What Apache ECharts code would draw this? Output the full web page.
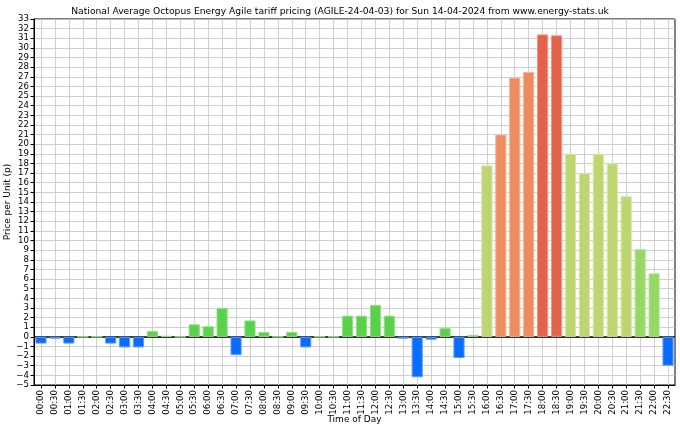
<!DOCTYPE html>
<html><head><meta charset="utf-8">
<script src="https://cdn.jsdelivr.net/npm/echarts@6/dist/echarts.min.js"></script>
<style>html,body{margin:0;padding:0;background:#fff}#c{width:680px;height:430px}</style>
</head><body><div id="c"></div>
<script>
const times = ["00:00","00:30","01:00","01:30","02:00","02:30","03:00","03:30","04:00","04:30","05:00","05:30","06:00","06:30","07:00","07:30","08:00","08:30","09:00","09:30","10:00","10:30","11:00","11:30","12:00","12:30","13:00","13:30","14:00","14:30","15:00","15:30","16:00","16:30","17:00","17:30","18:00","18:30","19:00","19:30","20:00","20:30","21:00","21:30","22:00","22:30"];
const prices = [-0.7,-0.2,-0.7,0,0,-0.7,-1.1,-1.1,0.6,0.1,0,1.3,1.1,3.0,-1.9,1.7,0.5,0,0.5,-1.1,0,0,2.2,2.2,3.3,2.2,-0.2,-4.2,-0.3,0.9,-2.2,0.2,17.8,21.0,26.9,27.5,31.4,31.3,19.0,17.0,19.0,18.0,14.6,9.1,6.6,-3.0];
const title = "National Average Octopus Energy Agile tariff pricing (AGILE-24-04-03) for Sun 14-04-2024 from www.energy-stats.uk";

function colorFor(v){
  if (v < 0) return ['#0a6cff','#5a9cff'];
  if (v < 5) return ['#5ad14a','#8ee083'];
  if (v < 12) return ['#95d863','#b8e597'];
  if (v < 20) return ['#bdd672','#d5e5a2'];
  if (v < 30) return ['#ed8c5f','#f4b395'];
  return ['#e5624a','#ef9483'];
}
const font = 'DejaVu Sans';
const chart = echarts.init(document.getElementById('c'), null, {renderer:'canvas'});
chart.setOption({
  animation:false,
  title:{text:title,left:'center',top:2,textStyle:{fontFamily:font,fontSize:9.2,fontWeight:'normal',color:'#000'}},
  grid:{left:34,right:5,top:19,bottom:45,outerBoundsMode:'none',containLabel:false,show:true,borderColor:'#000',borderWidth:1,backgroundColor:'transparent'},
  xAxis:{type:'category',data:times,boundaryGap:true,
    name:'Time of Day',nameLocation:'middle',nameGap:30,nameMoveOverlap:false,nameTextStyle:{fontFamily:font,fontSize:9,color:'#000'},
    axisLine:{onZero:false,lineStyle:{color:'#000'}},
    axisTick:{show:true,alignWithLabel:true,interval:0,length:3.5,lineStyle:{color:'#000'}},
    axisLabel:{rotate:90,interval:0,fontFamily:font,fontSize:8.6,color:'#000',margin:5},
    splitLine:{show:false}},
  yAxis:{type:'value',min:-5,max:33,interval:1,
    name:'Price per Unit (p)',nameLocation:'middle',nameGap:22,nameMoveOverlap:false,nameTextStyle:{fontFamily:font,fontSize:9,color:'#000'},
    axisLine:{show:true,lineStyle:{color:'#000'}},
    axisTick:{show:true,length:3.5,lineStyle:{color:'#000'}},
    axisLabel:{fontFamily:font,fontSize:8.6,color:'#000',margin:5,formatter:v=>v<0?'\u2212'+(-v):String(v)},
    splitLine:{show:true,lineStyle:{color:'#c4c4c4',width:0.8}}},
  series:[{
    type:'bar',barCategoryGap:'20%',
    data:prices.map(v=>{const c=colorFor(v);return {value:v,itemStyle:{color:c[0],borderColor:c[1],borderWidth:1}};}),
    markLine:{silent:true,symbol:'none',label:{show:false},z:1,
      data:times.map(t=>({xAxis:t,lineStyle:{color:'#c4c4c4',width:0.8,type:'solid'}})).concat([{yAxis:0,lineStyle:{color:'#000',width:1.5,type:'solid'}}])}
  }]
});
</script></body></html>
